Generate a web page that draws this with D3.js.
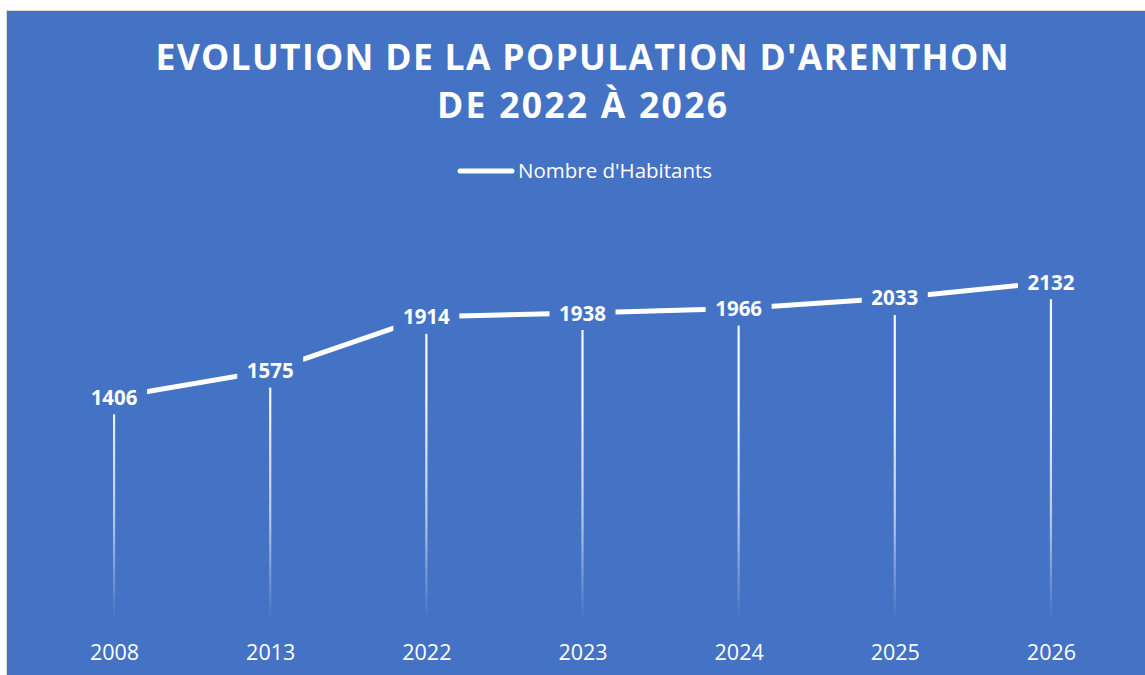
<!DOCTYPE html>
<html><head><meta charset="utf-8">
<script src="https://cdn.jsdelivr.net/npm/d3@7"></script>
<style>html,body{margin:0;padding:0;background:#fff;}svg{display:block;}</style>
</head><body>
<svg id="c" width="1145" height="675"></svg>
<script>
const years = ["2008","2013","2022","2023","2024","2025","2026"];
const habitants = [1406,1575,1914,1938,1966,2033,2132];
const titleLines = ["EVOLUTION DE LA POPULATION D'ARENTHON","DE 2022 À 2026"];
const seriesName = "Nombre d'Habitants";

const W=1145,H=675, blue="#4472C4";
const svg=d3.select("#c");
const font="'Open Sans', sans-serif";

svg.append("rect").attr("x",6.5).attr("y",10.5).attr("width",W).attr("height",H)
  .attr("fill",blue).attr("stroke","#d9d9d9").attr("stroke-width",1);

const defs=svg.append("defs");
const grad=defs.append("linearGradient").attr("id","drop").attr("gradientUnits","userSpaceOnUse")
  .attr("x1",0).attr("x2",0);

const x=d3.scalePoint().domain(years).range([36,1129]).padding(0.5);
const y=d3.scaleLinear().domain([0,2500]).range([620,224]);
grad.attr("y1",y(1400)).attr("y2",y(0));
grad.append("stop").attr("offset",0).attr("stop-color","#fff").attr("stop-opacity",0.95);
grad.append("stop").attr("offset",0.55).attr("stop-color","#fff").attr("stop-opacity",0.6);
grad.append("stop").attr("offset",1).attr("stop-color","#fff").attr("stop-opacity",0);

// title
const tl=[{t:titleLines[0],y:70,len:853},{t:titleLines[1],y:118,len:290}];
svg.selectAll("text.title").data(tl).join("text").attr("class","title")
  .attr("x",582).attr("y",d=>d.y).attr("text-anchor","middle")
  .attr("font-family",font).attr("font-weight",700).attr("font-size",35.5)
  .attr("fill","#fff").attr("textLength",d=>d.len).attr("lengthAdjust","spacing")
  .text(d=>d.t);

// legend
svg.append("line").attr("x1",460).attr("x2",512).attr("y1",171).attr("y2",171)
  .attr("stroke","#fff").attr("stroke-width",5).attr("stroke-linecap","round");
svg.append("text").attr("x",518).attr("y",177.5).attr("font-family",font).attr("font-size",20.5)
  .attr("fill","#fff").text(seriesName);

const data=years.map((yr,i)=>({yr,v:habitants[i]}));

// drop lines
svg.selectAll("line.drop").data(data).join("line").attr("class","drop")
  .attr("x1",d=>x(d.yr)).attr("x2",d=>x(d.yr)).attr("y1",d=>y(d.v)).attr("y2",y(0))
  .attr("stroke","url(#drop)").attr("stroke-width",2.2);

// line
svg.append("path").datum(data)
  .attr("d",d3.line().x(d=>x(d.yr)).y(d=>y(d.v)))
  .attr("fill","none").attr("stroke","#fff").attr("stroke-width",5).attr("stroke-linejoin","round");

// labels with blue box
const lg=svg.selectAll("g.lab").data(data).join("g").attr("class","lab")
  .attr("transform",d=>`translate(${x(d.yr)},${y(d.v)})`);
lg.append("rect").attr("x",-33).attr("y",-17).attr("width",66).attr("height",34).attr("fill",blue);
lg.append("text").attr("text-anchor","middle").attr("y",7.5)
  .attr("font-family",font).attr("font-weight",700).attr("font-size",20.5).attr("fill","#fff")
  .text(d=>d.v);

// x axis labels
const ax=svg.append("g").attr("transform",`translate(0,${y(0)})`)
  .call(d3.axisBottom(x).tickSize(0).tickPadding(0));
ax.select(".domain").remove();
ax.selectAll("text").attr("y",40).attr("dy",null).attr("font-family",font).attr("font-size",21.5).attr("fill","#fff");
</script>
</body></html>
